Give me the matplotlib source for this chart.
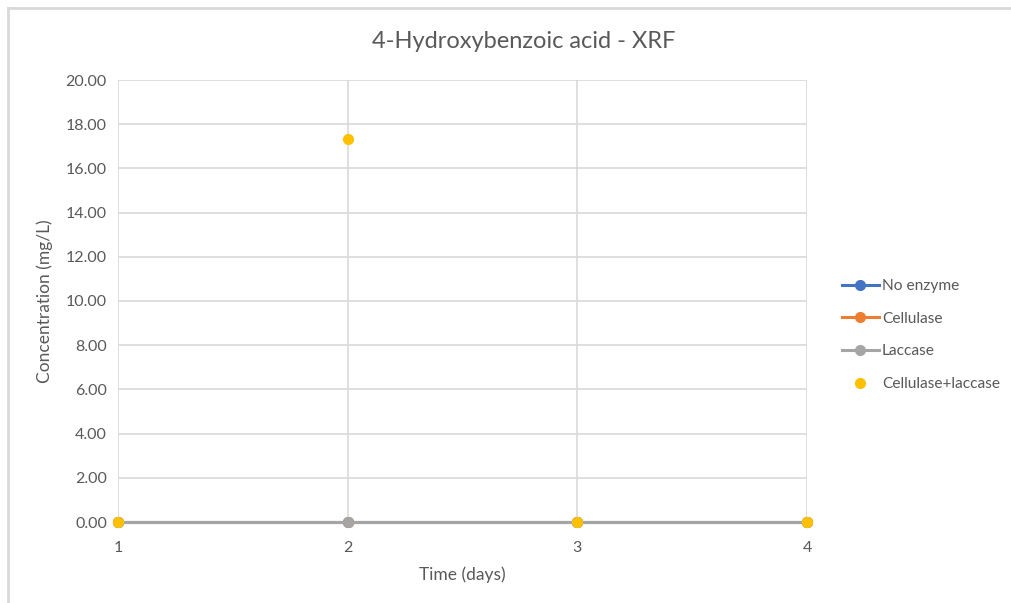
import matplotlib
matplotlib.use('Agg')
import matplotlib.pyplot as plt
from matplotlib.lines import Line2D

plt.rcParams['font.family'] = ['Lato', 'DejaVu Sans']

# data
days = [1, 2, 3, 4]
no_enzyme = [0.0, 0.0, 0.0, 0.0]
cellulase = [0.0, 0.0, 0.0, 0.0]
laccase = [0.0, 0.0, 0.0, 0.0]
cellulase_laccase = [0.0, 17.35, 0.0, 0.0]
y_ticks = [0, 2, 4, 6, 8, 10, 12, 14, 16, 18, 20]

TXT = '#595959'
GRID = '#d9d9d9'

fig = plt.figure(figsize=(10.12, 6.03), dpi=100)
ax = fig.add_axes([118 / 1012, 1 - 522 / 603, (807 - 118) / 1012, (522 - 80) / 603])

# outer chart border (only top and left visible in the crop)
fig.add_artist(Line2D([8 / 1012, 1], [1 - 8 / 603, 1 - 8 / 603], color=GRID, lw=2))
fig.add_artist(Line2D([8 / 1012, 8 / 1012], [0, 1 - 8 / 603], color=GRID, lw=2))

ax.plot(days, no_enzyme, color='#4472c4', lw=2.2, marker='o', ms=7, label='No enzyme',
        zorder=3, clip_on=False)
ax.plot(days, cellulase, color='#ed7d31', lw=2.2, marker='o', ms=7, label='Cellulase',
        zorder=4, clip_on=False)
ax.plot(days, laccase, color='#a5a5a5', lw=2.2, marker='o', ms=7, label='Laccase',
        zorder=5, clip_on=False)
ax.plot(days, cellulase_laccase, color='#ffc000', lw=0, marker='o', ms=7,
        label='Cellulase+laccase', zorder=6, clip_on=False)

ax.set_xlim(1, 4)
ax.set_ylim(0, 20)
ax.set_xticks(days)
ax.set_yticks(y_ticks)
ax.set_yticklabels([f'{v:.2f}' for v in y_ticks])
ax.grid(True, color=GRID, lw=1.2)
ax.set_axisbelow(True)
for s in ax.spines.values():
    s.set_visible(False)
ax.tick_params(length=0, colors=TXT, labelsize=11.5, pad=8)
ax.tick_params(axis='x', pad=14)

fig.text(524 / 1012, 1 - 42 / 603, '4-Hydroxybenzoic acid - XRF', color=TXT,
         fontsize=17, ha='center', va='center')
ax.set_xlabel('Time (days)', color=TXT, fontsize=12.5, labelpad=8)
ax.set_ylabel('Concentration (mg/L)', color=TXT, fontsize=12.5, labelpad=9)

leg = ax.legend(loc='center left', bbox_to_anchor=(1.03, 0.423), frameon=False,
                fontsize=11.2, labelcolor=TXT, handlelength=2.4, labelspacing=1.2,
                handletextpad=0.2)

fig.savefig('out.png', dpi=100, facecolor='white')
